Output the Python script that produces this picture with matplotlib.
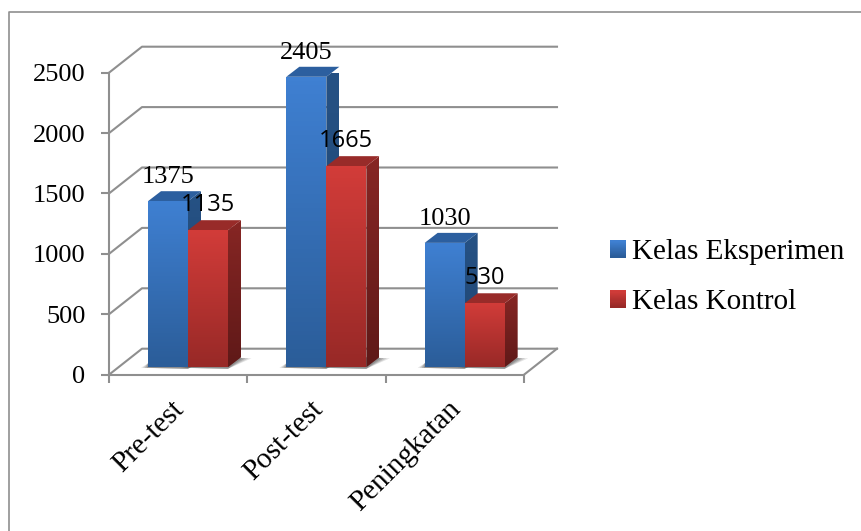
import numpy as np
import matplotlib
matplotlib.use('Agg')
import matplotlib.pyplot as plt
from matplotlib.lines import Line2D
from matplotlib.patches import Patch, Polygon, Rectangle
from matplotlib.colors import LinearSegmentedColormap
from matplotlib.legend_handler import HandlerBase
from matplotlib.transforms import Affine2D

categories = ['Pre-test', 'Post-test', 'Peningkatan']
series_names = ['Kelas Eksperimen', 'Kelas Kontrol']
eksperimen = [1375, 2405, 1030]
kontrol = [1135, 1665, 530]
y_ticks = [0, 500, 1000, 1500, 2000, 2500]

PX_X = 3 / 415.0      # data units per pixel
PX_Y = 2500 / 302.0
BAR_W = 40 * PX_X
BAR_LEFT = 39 * PX_X
BASE = 7.4 * PX_Y     # bars stand a little behind the front edge of the floor
DX, DY = 13 * PX_X, 10 * PX_Y    # bar depth
WX, WY = 33 * PX_X, 26 * PX_Y    # wall depth
GRAY = '#8f8f8f'

BLUE = dict(front=('#3f80d2', '#2b5d99'), side=('#265285', '#1f4470'), top='#2c5f9f')
RED = dict(front=('#d23c39', '#982927'), side=('#872624', '#5f1918'), top='#982b29')


class GradientHandler(HandlerBase):
    def __init__(self, colors):
        super().__init__()
        self.colors = colors

    def create_artists(self, legend, orig_handle, xdescent, ydescent, width, height, fontsize, trans):
        cmap = LinearSegmentedColormap.from_list('g', self.colors)
        n = 15
        out = []
        for i in range(n):
            out.append(Rectangle((-xdescent, -ydescent + height * (n - 1 - i) / n), width, height / n + 0.2,
                                 facecolor=cmap(i / (n - 1)), edgecolor='none', transform=trans))
        return out


plt.rcParams['font.family'] = ['Liberation Serif']
fig = plt.figure(figsize=(8.61, 5.31), dpi=100)
ax = fig.add_axes([109 / 861, (531 - 374.7) / 531, 415 / 861, 302 / 531])

# outer frame of the picture
fig.add_artist(Line2D([8.5 / 861, 8.5 / 861, 1], [0, 1 - 11.5 / 531, 1 - 11.5 / 531], color=GRAY, lw=1.2))

# walls and floor
for v in y_ticks:
    ax.plot([0, WX, 3 + WX], [v, v + WY, v + WY], color=GRAY, lw=1.5, zorder=1, clip_on=False)
ax.plot([3, 3 + WX], [0, WY], color=GRAY, lw=1.5, zorder=1, clip_on=False)


def draw_series(values, offset, style):
    lefts = [i + BAR_LEFT + offset * BAR_W for i in range(len(values))]
    heights = values
    bars = ax.bar(lefts, heights, width=BAR_W, bottom=BASE, align='edge', color='none', zorder=4, clip_on=False)
    cmap_front = LinearSegmentedColormap.from_list('f', style['front'])
    cmap_side = LinearSegmentedColormap.from_list('s', style['side'])
    grad = np.linspace(0, 1, 64).reshape(-1, 1)
    for b, left, h in zip(bars, lefts, heights):
        top = BASE + h
        right = left + BAR_W
        # soft shadow on the floor
        for grow, a in [(7, 0.16), (5, 0.2), (3, 0.26), (1, 0.3)]:
            g = grow * PX_X
            ax.add_patch(Polygon([(left - g, BASE - 0.5 * PX_Y), (right, BASE - 1.5 * PX_Y),
                                  (right + DX + g * 1.5, BASE + DY * 0.9), (right, BASE + DY),
                                  (left, BASE + 4 * PX_Y)],
                                 facecolor='#555555', edgecolor='none', alpha=a, zorder=2, clip_on=False))
        im = ax.imshow(grad, extent=(left, right, BASE, top), cmap=cmap_front, aspect='auto',
                       origin='upper', zorder=3 + offset * 0.5 + 0.2, clip_on=True)
        im.set_clip_path(b)
        side = Polygon([(right, BASE), (right + DX, BASE + DY), (right + DX, top + DY), (right, top)],
                       transform=ax.transData, facecolor='none', edgecolor='none')
        ax.add_patch(side)
        side.set_clip_on(False)
        im2 = ax.imshow(grad, extent=(right, right + DX, BASE, top + DY), cmap=cmap_side, aspect='auto',
                        origin='upper', zorder=3 + offset * 0.5 + 0.1)
        im2.set_clip_path(side)
        ax.add_patch(Polygon([(left, top), (left + DX, top + DY), (right + DX, top + DY), (right, top)],
                             facecolor=style['top'], edgecolor='none', zorder=3 + offset * 0.5 + 0.1, clip_on=False))
    return lefts


left_e = draw_series(eksperimen, 0, BLUE)
left_k = draw_series(kontrol, 1, RED)

# data labels: serif for the first series, sans for the second
for x, v in zip(left_e, eksperimen):
    ax.annotate(str(v), (x + BAR_W / 2, BASE + v), xytext=(0, 24), textcoords='offset pixels', ha='center',
                va='center', fontsize=19, color='black', zorder=6, family='Liberation Serif')
for x, v in zip(left_k, kontrol):
    ax.annotate(str(v), (x + BAR_W / 2, BASE + v), xytext=(0, 25), textcoords='offset pixels', ha='center',
                va='center', fontsize=17, color='black', zorder=6, family='Open Sans')

ax.set_xlim(0, 3)
ax.set_ylim(0, 2500)
ax.patch.set_visible(False)
for s in ['top', 'right']:
    ax.spines[s].set_visible(False)
for s in ['left', 'bottom']:
    ax.spines[s].set_color(GRAY)
    ax.spines[s].set_linewidth(1.5)
    ax.spines[s].set_zorder(1)
ax.set_yticks(y_ticks)
ax.set_xticks([0, 1, 2, 3])
ax.set_xticklabels([])
ax.tick_params(axis='y', length=6, width=1.5, color=GRAY, labelsize=19, pad=11)
ax.tick_params(axis='x', length=6, width=1.5, color=GRAY)
ax.set_xticks([0.5, 1.5, 2.5], minor=True)
ax.set_xticklabels(categories, minor=True, rotation=45, ha='right', rotation_mode='anchor', fontsize=21)
ax.tick_params(axis='x', which='minor', length=0, pad=9)
for lab in ax.get_xticklabels(minor=True):
    lab.set_transform(lab.get_transform() + Affine2D().translate(-7, -9))

handles = [Patch(label=series_names[0]), Patch(label=series_names[1])]
fig.legend(handles=handles, loc='upper left', bbox_to_anchor=(610 / 861, 1 - 239.5 / 531), frameon=False,
           fontsize=21, borderpad=0, borderaxespad=0, handlelength=0.55, handleheight=0.52, handletextpad=0.2,
           labelspacing=0.82,
           handler_map={handles[0]: GradientHandler(BLUE['front']), handles[1]: GradientHandler(RED['front'])})

fig.savefig('out.png', dpi=100)
